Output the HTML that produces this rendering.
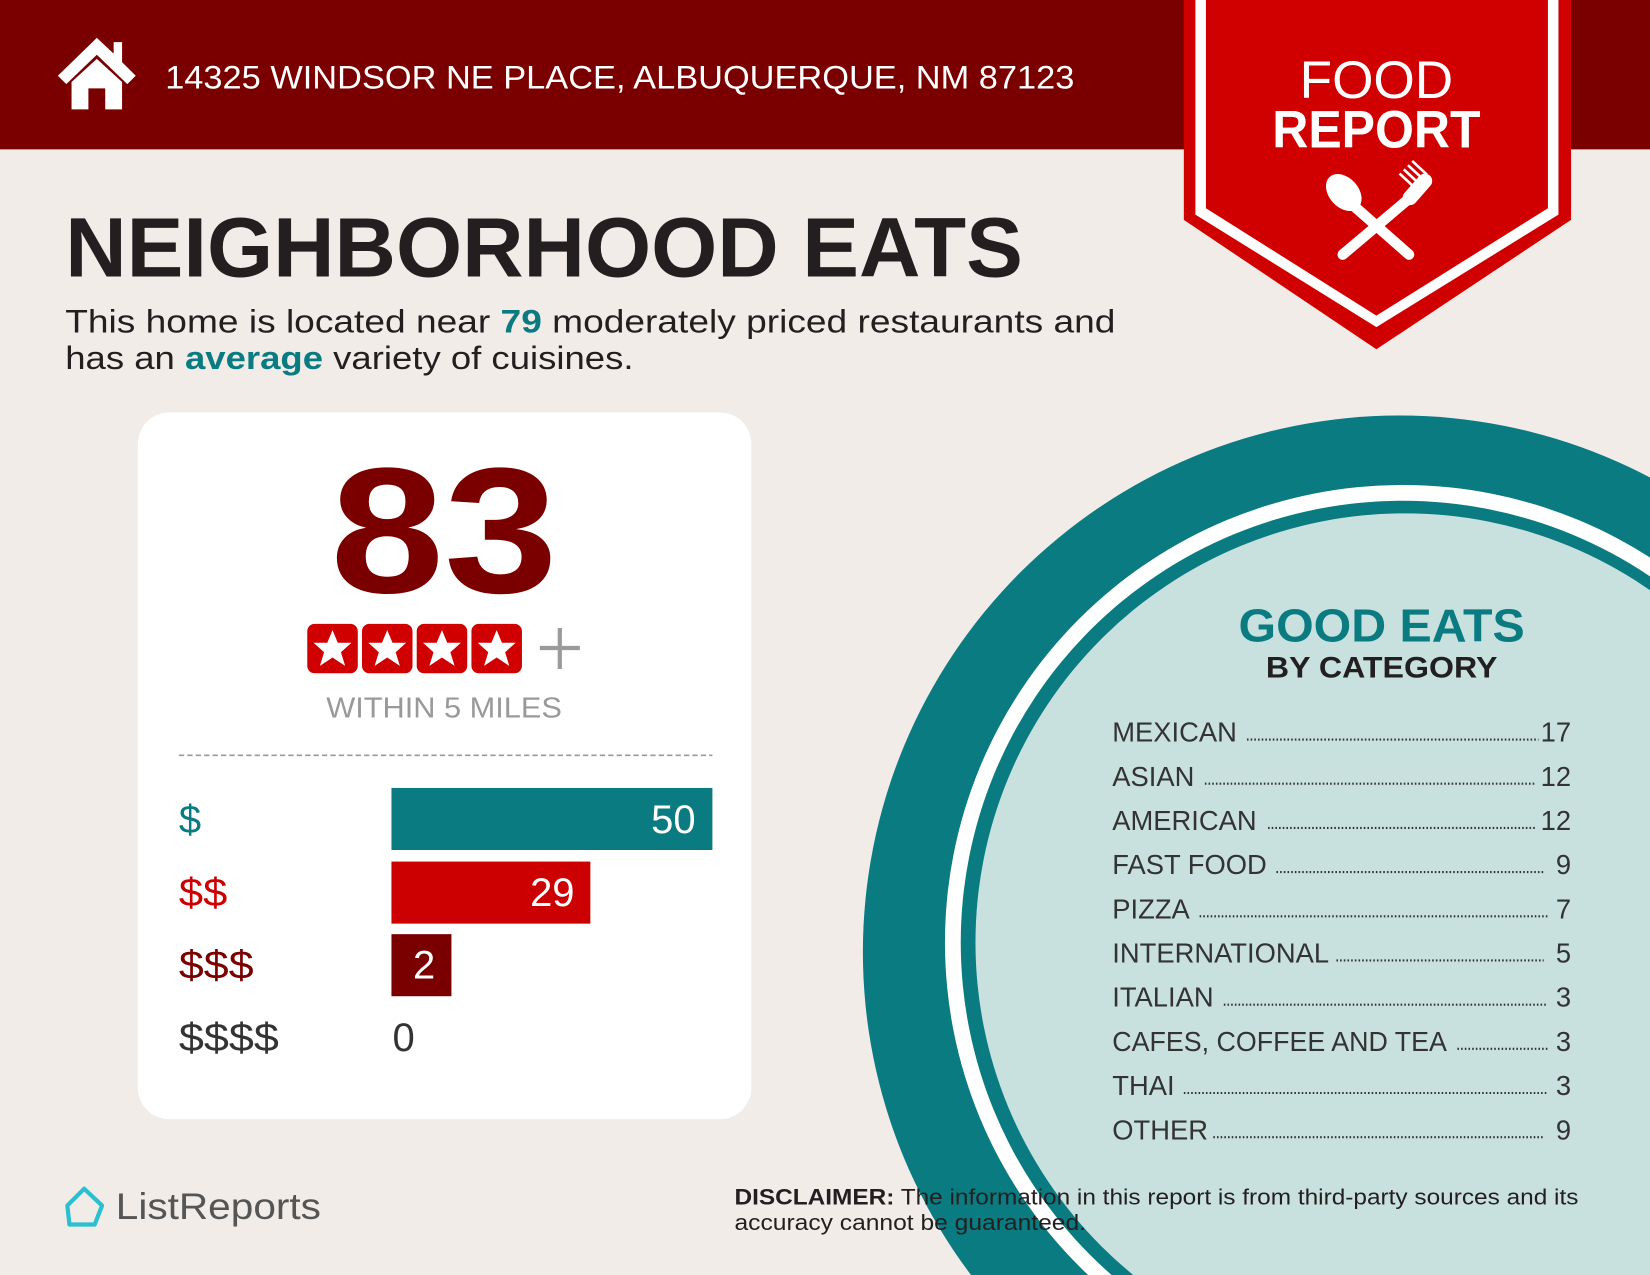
<!DOCTYPE html>
<html><head><meta charset="utf-8"><style>
html,body{margin:0;padding:0;background:#f1ece8;width:1650px;height:1275px;overflow:hidden;}
svg{display:block;position:absolute;left:0;top:0}
text{font-family:"Liberation Sans",sans-serif}
</style></head><body>
<svg width="1650" height="1275" viewBox="0 0 1568 1212" preserveAspectRatio="none" xmlns="http://www.w3.org/2000/svg">
<rect width="1568" height="1212" fill="#f1ece8"/>
<rect width="1568" height="142" fill="#7a0000"/>
<polygon points="92,36 55,72 63,80 92,52 121,80 129,72 116,59 116,40 108,40 108,51" fill="#fff"/>
<polygon points="68,78 92,56 116,78 116,104 100,104 100,84 84,84 84,104 68,104" fill="#fff"/>
<text x="157" y="84" font-size="31" fill="#fff" textLength="864" lengthAdjust="spacingAndGlyphs">14325 WINDSOR NE PLACE, ALBUQUERQUE, NM 87123</text>
<polygon points="1125,0 1493,0 1493,209 1308,332 1125,209" fill="#d10000"/>
<polygon points="1136,0 1146,0 1146,198 1308,300 1471,198 1471,0 1481,0 1481,204 1308,311 1136,204" fill="#fff"/>
<text x="1308" y="93" font-size="50" fill="#fff" text-anchor="middle" textLength="146" lengthAdjust="spacingAndGlyphs">FOOD</text>
<text x="1308" y="140" font-size="50" font-weight="bold" fill="#fff" text-anchor="middle" textLength="198" lengthAdjust="spacingAndGlyphs">REPORT</text>
<g stroke="#fff" stroke-linecap="round" fill="none">
<line x1="1280" y1="190" x2="1339" y2="242" stroke-width="10"/>
<line x1="1340" y1="188" x2="1276" y2="242" stroke-width="10"/>
<line x1="1340" y1="188" x2="1354" y2="172" stroke-width="14"/>
</g>
<ellipse cx="1277" cy="183" rx="14" ry="20" transform="rotate(-42 1277 183)" fill="#fff"/>
<g stroke="#fff" stroke-width="2.5"><line x1="1344" y1="178" x2="1330" y2="165"/><line x1="1348" y1="174" x2="1334" y2="161"/><line x1="1352" y1="170" x2="1338" y2="157"/><line x1="1356" y1="166" x2="1342" y2="153"/></g>
<text x="62" y="263" font-size="80" font-weight="bold" fill="#231f20" textLength="910" lengthAdjust="spacingAndGlyphs">NEIGHBORHOOD EATS</text>
<text x="62" y="316" font-size="31" fill="#231f20" textLength="998" lengthAdjust="spacingAndGlyphs">This home is located near <tspan fill="#0a7b80" font-weight="bold">79</tspan> moderately priced restaurants and</text>
<text x="62" y="351" font-size="31" fill="#231f20" textLength="540" lengthAdjust="spacingAndGlyphs">has an <tspan fill="#0a7b80" font-weight="bold">average</tspan> variety of cuisines.</text>
<rect x="131" y="392" width="583" height="672" rx="30" fill="#fff"/>
<text x="422" y="563" font-size="170" font-weight="bold" fill="#7a0000" text-anchor="middle" textLength="216" lengthAdjust="spacingAndGlyphs">83</text>
<g fill="#d10000">
<rect x="292" y="593" width="48" height="47" rx="7"/><rect x="344" y="593" width="48" height="47" rx="7"/><rect x="396" y="593" width="48" height="47" rx="7"/><rect x="448" y="593" width="48" height="47" rx="7"/>
</g>
<g fill="#fff">
<polygon id="st" points="316,599 321,611 334,611 324,620 328,633 316,625 304,633 308,620 298,611 311,611"/>
<use href="#st" x="52"/><use href="#st" x="104"/><use href="#st" x="156"/>
</g>
<g stroke="#9a9a9a" stroke-width="4"><line x1="513" y1="616" x2="551" y2="616"/><line x1="532" y1="597" x2="532" y2="636"/></g>
<text x="422" y="682" font-size="27" fill="#999" text-anchor="middle" textLength="224" lengthAdjust="spacingAndGlyphs">WITHIN 5 MILES</text>
<line x1="170" y1="718" x2="677" y2="718" stroke="#999" stroke-width="1.5" stroke-dasharray="5,3"/>
<rect x="372" y="749" width="305" height="59" fill="#0a7b80"/>
<rect x="372" y="819" width="189" height="59" fill="#cc0000"/>
<rect x="372" y="888" width="57" height="59" fill="#7a0000"/>
<g font-size="38">
<text x="170" y="792" fill="#0a7b80">$</text>
<text x="170" y="861" fill="#cc0000" textLength="46" lengthAdjust="spacingAndGlyphs">$$</text>
<text x="170" y="930" fill="#7a0000" textLength="71" lengthAdjust="spacingAndGlyphs">$$$</text>
<text x="170" y="999" fill="#333" textLength="95" lengthAdjust="spacingAndGlyphs">$$$$</text>
<text x="661" y="792" fill="#fff" text-anchor="end">50</text>
<text x="546" y="861" fill="#fff" text-anchor="end">29</text>
<text x="403" y="930" fill="#fff" text-anchor="middle">2</text>
<text x="373" y="999" fill="#333">0</text>
</g>
<circle cx="1330" cy="905" r="510" fill="#0a7b80"/>
<circle cx="1333" cy="896" r="435" fill="#fff"/>
<circle cx="1333" cy="896" r="420" fill="#0a7b80"/>
<circle cx="1335" cy="896" r="408" fill="#c8e1df"/>
<text x="1313" y="610" font-size="44" font-weight="bold" fill="#0a7b80" text-anchor="middle" textLength="272" lengthAdjust="spacingAndGlyphs">GOOD EATS</text>
<text x="1313" y="644" font-size="28" font-weight="bold" fill="#231f20" text-anchor="middle" textLength="220" lengthAdjust="spacingAndGlyphs">BY CATEGORY</text>
<g font-size="26" fill="#333">
<text x="1057" y="705">MEXICAN</text><text x="1493" y="705" text-anchor="end">17</text>
<text x="1057" y="747">ASIAN</text><text x="1493" y="747" text-anchor="end">12</text>
<text x="1057" y="789">AMERICAN</text><text x="1493" y="789" text-anchor="end">12</text>
<text x="1057" y="831">FAST FOOD</text><text x="1493" y="831" text-anchor="end">9</text>
<text x="1057" y="873">PIZZA</text><text x="1493" y="873" text-anchor="end">7</text>
<text x="1057" y="915">INTERNATIONAL</text><text x="1493" y="915" text-anchor="end">5</text>
<text x="1057" y="957">ITALIAN</text><text x="1493" y="957" text-anchor="end">3</text>
<text x="1057" y="999" textLength="318" lengthAdjust="spacingAndGlyphs">CAFES, COFFEE AND TEA</text><text x="1493" y="999" text-anchor="end">3</text>
<text x="1057" y="1041">THAI</text><text x="1493" y="1041" text-anchor="end">3</text>
<text x="1057" y="1083">OTHER</text><text x="1493" y="1083" text-anchor="end">9</text>
</g>
<g stroke="#333" stroke-width="2" stroke-dasharray="1.5,2">
<line x1="1185" y1="703" x2="1462" y2="703"/>
<line x1="1145" y1="745" x2="1460" y2="745"/>
<line x1="1205" y1="787" x2="1460" y2="787"/>
<line x1="1213" y1="829" x2="1467" y2="829"/>
<line x1="1140" y1="871" x2="1472" y2="871"/>
<line x1="1270" y1="913" x2="1467" y2="913"/>
<line x1="1163" y1="955" x2="1471" y2="955"/>
<line x1="1385" y1="997" x2="1471" y2="997"/>
<line x1="1125" y1="1039" x2="1471" y2="1039"/>
<line x1="1153" y1="1081" x2="1467" y2="1081"/>
</g>
<text x="698" y="1145" font-size="21" fill="#231f20" textLength="802" lengthAdjust="spacingAndGlyphs"><tspan font-weight="bold">DISCLAIMER:</tspan> The information in this report is from third-party sources and its</text>
<text x="698" y="1169" font-size="21" fill="#231f20" textLength="334" lengthAdjust="spacingAndGlyphs">accuracy cannot be guaranteed.</text>
<path d="M80,1130 L97,1146 L90,1164 L66,1164 L64,1146 Z" fill="none" stroke="#2bbfcf" stroke-width="4" stroke-linejoin="round"/>
<text x="110" y="1159" font-size="35" fill="#555" textLength="195" lengthAdjust="spacingAndGlyphs">ListReports</text>
</svg>
</body></html>
